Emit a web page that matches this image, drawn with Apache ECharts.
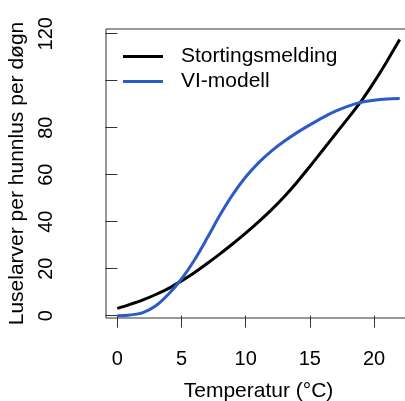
<!DOCTYPE html>
<html>
<head>
<meta charset="utf-8">
<script src="https://cdn.jsdelivr.net/npm/echarts@6/dist/echarts.min.js"></script>
<style>
  html, body { margin: 0; padding: 0; background: #ffffff; }
  #chart { width: 405px; height: 401px; }
</style>
</head>
<body>
<div id="chart"></div>
<script>
// Temperature (°C) at which both curves are evaluated
const temperatures = [0, 1, 2, 3, 4, 5, 6, 7, 8, 9, 10, 11, 12, 13, 14, 15, 16, 17, 18, 19, 20, 21, 22];

// Lice larvae per female louse per day
const stortingsmelding = [3.1, 4.8, 6.7, 9.0, 11.6, 14.8, 18.3, 22.2, 26.3, 30.6, 35.1, 39.9, 45.0, 50.6, 56.8, 63.5, 70.4, 77.3, 84.2, 91.3, 99.4, 108.2, 117.5];
const viModell = [0.0, 0.3, 1.3, 4.2, 9.2, 15.6, 23.6, 33.0, 42.8, 51.6, 59.0, 65.0, 70.0, 74.2, 77.9, 81.2, 84.3, 87.0, 89.2, 90.8, 91.7, 92.2, 92.4];

// Axis ticks and the labels actually printed
const xTicks = [0, 5, 10, 15, 20];
const yTicks = [0, 20, 40, 60, 80, 100, 120];
const yTickLabels = [0, 20, 40, 60, 80, 120];

const seriesNames = ['Stortingsmelding', 'VI-modell'];

const FONT = "'Liberation Sans', Arial, sans-serif";
const FRAME = '#333333';

const zip = (xs, ys) => xs.map((x, i) => [x, ys[i]]);

const chart = echarts.init(document.getElementById('chart'), null, { renderer: 'canvas' });

chart.setOption({
  animation: false,
  backgroundColor: '#ffffff',
  textStyle: { fontFamily: FONT },
  grid: {
    left: 106, top: 29, width: 305, height: 289,
    outerBoundsMode: 'none',
    containLabel: false,
    show: true, borderColor: FRAME, borderWidth: 1, backgroundColor: 'transparent'
  },
  legend: {
    orient: 'vertical',
    left: 123, top: 46,
    padding: 0,
    itemWidth: 40, itemHeight: 3, itemGap: 4,
    icon: 'rect',
    textStyle: { fontFamily: FONT, fontSize: 21, lineHeight: 21, color: '#000', padding: [0, 0, 0, 13] },
    data: seriesNames
  },
  xAxis: {
    type: 'value',
    min: -0.88, max: 22.88,
    name: 'Temperatur (°C)',
    nameLocation: 'middle', nameGap: 63,
    nameTextStyle: { fontFamily: FONT, fontSize: 21, color: '#000' },
    axisLine: { show: false },
    axisTick: { show: true, length: 12, customValues: xTicks, lineStyle: { color: FRAME, width: 1 } },
    axisLabel: { customValues: xTicks, margin: 31, fontFamily: FONT, fontSize: 20, color: '#000' },
    splitLine: { show: false }
  },
  yAxis: {
    type: 'value',
    min: -1, max: 122,
    name: 'Luselarver per hunnlus per døgn',
    nameLocation: 'middle', nameGap: 73, nameRotate: 90,
    nameTextStyle: { fontFamily: FONT, fontSize: 21, color: '#000' },
    axisLine: { show: false },
    axisTick: { show: true, length: 12, customValues: yTicks, lineStyle: { color: FRAME, width: 1 } },
    axisLabel: { customValues: yTickLabels, rotate: 90, margin: 50, fontFamily: FONT, fontSize: 20, color: '#000' },
    splitLine: { show: false }
  },
  series: [
    {
      name: seriesNames[0], type: 'line',
      data: zip(temperatures, stortingsmelding),
      symbol: 'none', smooth: 0.3,
      lineStyle: { color: '#000000', width: 3 },
      itemStyle: { color: '#000000' }
    },
    {
      name: seriesNames[1], type: 'line',
      data: zip(temperatures, viModell),
      symbol: 'none', smooth: 0.3,
      lineStyle: { color: '#2B5BC6', width: 3 },
      itemStyle: { color: '#2B5BC6' }
    }
  ]
});
</script>
</body>
</html>
